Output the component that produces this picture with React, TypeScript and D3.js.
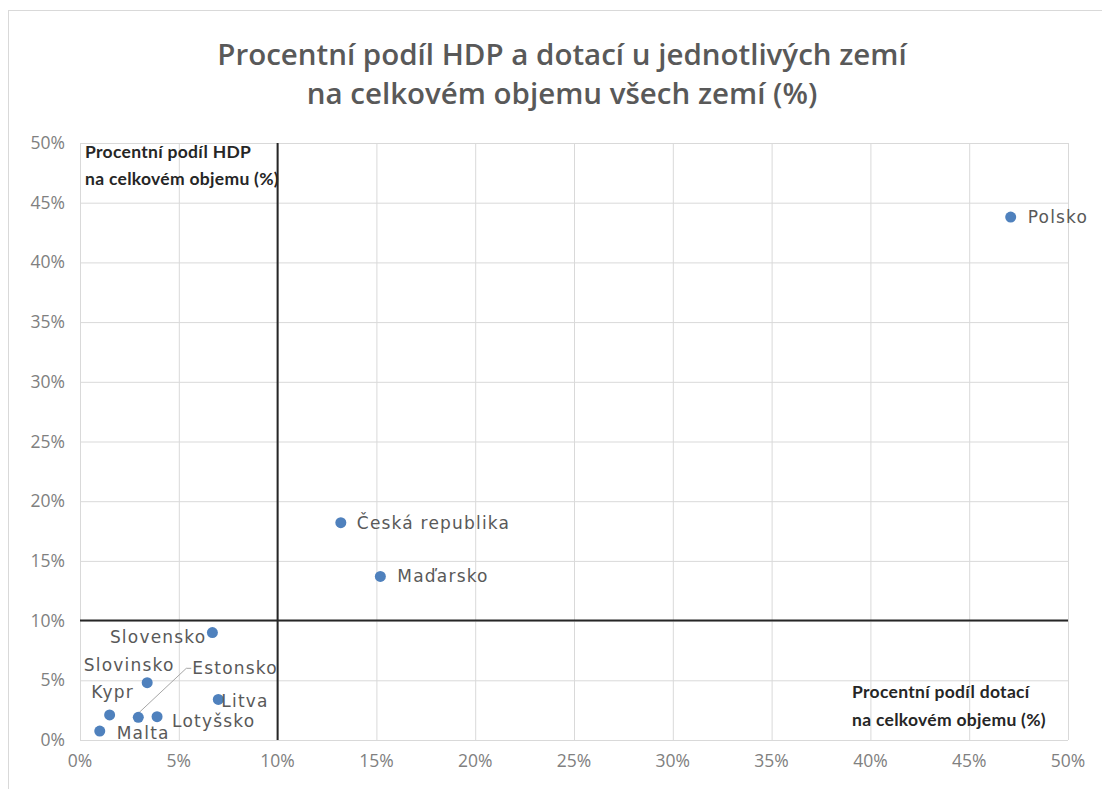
import React, { useEffect, useRef } from "react";
import * as d3 from "d3";

// data (share of subsidies %, share of GDP %)
const countries = ["Polsko", "Česká republika", "Maďarsko", "Slovensko", "Slovinsko", "Estonsko", "Litva", "Kypr", "Lotyšsko", "Malta"];
const dotace = [47.1, 13.2, 15.2, 6.7, 3.4, 2.95, 7.0, 1.5, 3.9, 1.0];
const hdp = [43.8, 18.2, 13.7, 9.0, 4.8, 1.9, 3.4, 2.1, 1.95, 0.75];
const xTicks = [0, 5, 10, 15, 20, 25, 30, 35, 40, 45, 50];
const yTicks = [0, 5, 10, 15, 20, 25, 30, 35, 40, 45, 50];

// label placement (offsets from point, anchor)
const labelPos: { [k: string]: [number, number, string] } = {
  "Polsko": [17, 6, "start"],
  "Česká republika": [16, 6, "start"],
  "Maďarsko": [17, 6, "start"],
  "Slovensko": [-6, 10, "end"],
  "Slovinsko": [-18, -12, "middle"],
  "Estonsko": [54, -43, "start"],
  "Litva": [3, 8, "start"],
  "Kypr": [3, -17, "middle"],
  "Lotyšsko": [15, 10, "start"],
  "Malta": [17, 8, "start"],
};

const App = () => {
  const ref = useRef<SVGSVGElement>(null);

  useEffect(() => {
    const W = 1102, H = 789;
    const margin = { top: 143, right: 34, bottom: 49, left: 80 };
    const svg = d3.select(ref.current);
    svg.selectAll("*").remove();

    svg.append("rect").attr("width", W).attr("height", H).attr("fill", "#fff");
    svg.append("rect").attr("x", 8.5).attr("y", 10.5).attr("width", W).attr("height", H)
      .attr("fill", "none").attr("stroke", "#d9d9d9");

    const x = d3.scaleLinear().domain([0, 50]).range([margin.left, W - margin.right]);
    const y = d3.scaleLinear().domain([0, 50]).range([H - margin.bottom, margin.top]);

    // gridlines
    const g = svg.append("g");
    g.selectAll("line.gx").data(xTicks).enter().append("line")
      .attr("x1", d => x(d) + 0.5).attr("x2", d => x(d) + 0.5)
      .attr("y1", y(0)).attr("y2", y(50))
      .attr("stroke", "#d9d9d9").attr("stroke-width", 1);
    g.selectAll("line.gy").data(yTicks).enter().append("line")
      .attr("y1", d => y(d) + 0.5).attr("y2", d => y(d) + 0.5)
      .attr("x1", x(0)).attr("x2", x(50))
      .attr("stroke", "#d9d9d9").attr("stroke-width", 1);

    // quadrant axes
    g.append("line").attr("x1", x(10)).attr("x2", x(10)).attr("y1", y(0)).attr("y2", y(50))
      .attr("stroke", "#262626").attr("stroke-width", 2);
    g.append("line").attr("y1", y(10)).attr("y2", y(10)).attr("x1", x(0)).attr("x2", x(50))
      .attr("stroke", "#262626").attr("stroke-width", 2);

    // tick labels
    const tickFont = "'Open Sans', sans-serif";
    svg.append("g").selectAll("text").data(xTicks).enter().append("text")
      .attr("x", d => x(d)).attr("y", 767)
      .attr("text-anchor", "middle").attr("font-family", tickFont).attr("font-size", 17.5)
      .attr("fill", "#808080").text(d => d + "%");
    svg.append("g").selectAll("text").data(yTicks).enter().append("text")
      .attr("x", 65).attr("y", d => y(d) + 6)
      .attr("text-anchor", "end").attr("font-family", tickFont).attr("font-size", 17.5)
      .attr("fill", "#808080").text(d => d + "%");

    // title
    const title = svg.append("text").attr("text-anchor", "middle")
      .attr("font-family", "'Open Sans', sans-serif").attr("font-weight", 600)
      .attr("font-size", 29.5).attr("fill", "#595959");
    title.append("tspan").attr("x", 562).attr("y", 65).text("Procentní podíl HDP a dotací u jednotlivých zemí");
    title.append("tspan").attr("x", 562).attr("y", 104).text("na celkovém objemu všech zemí (%)");

    // axis titles
    const at = (lines: string[], tx: number, ty: number, gap: number) => {
      const t = svg.append("text").attr("font-family", "Lato, sans-serif").attr("font-weight", 700)
        .attr("font-size", 17.5).attr("letter-spacing", 0.3).attr("fill", "#262626");
      lines.forEach((l, i) => t.append("tspan").attr("x", tx).attr("y", ty + i * gap).text(l));
    };
    at(["Procentní podíl HDP", "na celkovém objemu (%)"], 85, 158, 27);
    at(["Procentní podíl dotací", "na celkovém objemu (%)"], 852, 698, 28);

    // leader line for Estonsko
    const ei = countries.indexOf("Estonsko");
    const ex = x(dotace[ei]), ey = y(hdp[ei]);
    svg.append("polyline")
      .attr("points", `${ex},${ey - 4} ${ex + 48},${ey - 49} ${ex + 53},${ey - 49}`)
      .attr("fill", "none").attr("stroke", "#a6a6a6").attr("stroke-width", 1);

    // points
    const pts = svg.append("g");
    countries.forEach((c, i) => {
      pts.append("circle").attr("cx", x(dotace[i])).attr("cy", y(hdp[i])).attr("r", 5.5)
        .attr("fill", "#4f81bd");
    });
    countries.forEach((c, i) => {
      const [dx, dy, anchor] = labelPos[c];
      pts.append("text").attr("x", x(dotace[i]) + dx).attr("y", y(hdp[i]) + dy)
        .attr("text-anchor", anchor).attr("font-family", "'DejaVu Sans', sans-serif")
        .attr("font-size", 17).attr("letter-spacing", 1.2).attr("fill", "#595959").text(c);
    });
  }, []);

  return (
    <svg ref={ref} width={1102} height={789}
      style={{ position: "absolute", left: 0, top: 0, display: "block" }} />
  );
};

export default App;
